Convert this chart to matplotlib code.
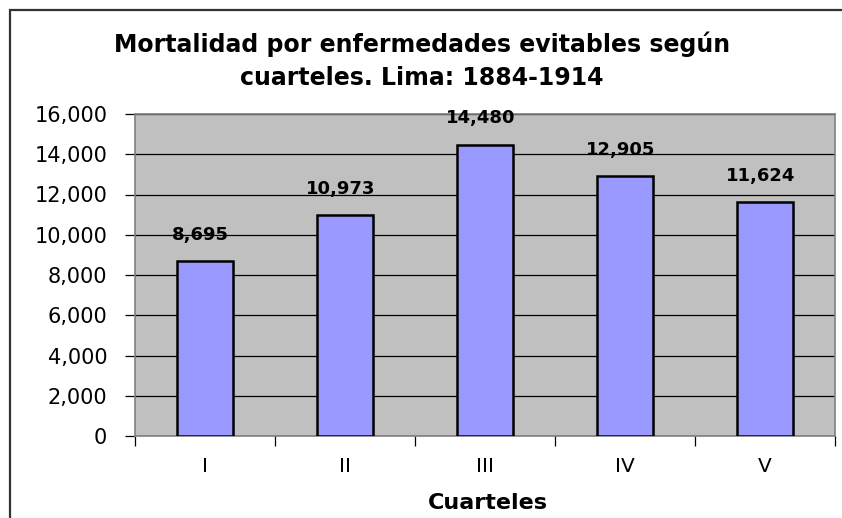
import matplotlib
matplotlib.use("Agg")
import matplotlib.pyplot as plt
from matplotlib.patches import Rectangle
from matplotlib.ticker import FuncFormatter, FixedLocator

categories = ["I", "II", "III", "IV", "V"]
values = [8695, 10973, 14480, 12905, 11624]
yticks = [0, 2000, 4000, 6000, 8000, 10000, 12000, 14000, 16000]
title = "Mortalidad por enfermedades evitables según\ncuarteles. Lima: 1884-1914"
xlabel = "Cuarteles"

plt.rcParams['font.family'] = ['DejaVu Sans']

fig = plt.figure(figsize=(8.42, 5.18), dpi=100)
fig.patch.set_facecolor("white")

# outer chart border (extends beyond right/bottom edges)
fig.add_artist(Rectangle((9.5/842, -0.05), 1.0, 1 - 9.5/518 + 0.05,
                         transform=fig.transFigure, fill=False,
                         edgecolor="#333333", linewidth=1.6))

ax = fig.add_axes([135/842, 1 - 436/518, (835 - 135)/842, (436 - 114)/518])
ax.set_facecolor("#C0C0C0")
x = list(range(len(categories)))
ax.bar(x, values, width=0.4, color="#9999FF", edgecolor="black",
       linewidth=1.8, zorder=3)

ax.set_xlim(-0.5, len(categories) - 0.5)
ax.set_ylim(0, 16000)
ax.set_yticks(yticks)
ax.yaxis.set_major_formatter(FuncFormatter(lambda v, p: f"{int(v):,}"))
ax.grid(axis="y", color="black", linewidth=0.9, zorder=1)
ax.set_axisbelow(True)

ax.set_xticks(x)
ax.set_xticklabels(categories)
ax.xaxis.set_minor_locator(FixedLocator([i - 0.5 for i in range(len(categories) + 1)]))
ax.tick_params(axis="x", which="major", length=0, pad=15, labelsize=14.5)
ax.tick_params(axis="x", which="minor", length=7, width=0.9, color="black", direction="out")
ax.tick_params(axis="y", length=7, width=0.9, color="black", direction="out",
               labelsize=15, pad=13)

for s in ["top", "right", "left", "bottom"]:
    ax.spines[s].set_color("#808080")
    ax.spines[s].set_linewidth(1.2)

for xi, v in zip(x, values):
    ax.annotate(f"{v:,}", (xi, v), xytext=(-3, 12.5), textcoords="offset points",
                ha="center", va="bottom", fontsize=13, fontweight="bold", zorder=4)

fig.text(422/842, 1 - 61/518, title, ha="center", va="center",
         fontsize=17, fontweight="bold", linespacing=1.45)
fig.text(488/842, 1 - 503/518, xlabel, ha="center", va="center",
         fontsize=16, fontweight="bold")

fig.savefig("out.png", dpi=100)
